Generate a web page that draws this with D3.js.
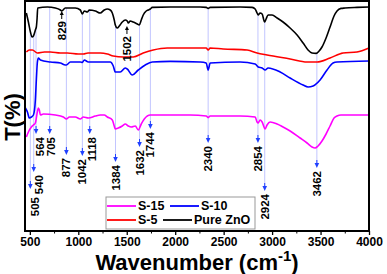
<!DOCTYPE html>
<html><head><meta charset="utf-8">
<script src="https://cdn.jsdelivr.net/npm/d3@7"></script>
<style>body{margin:0;background:#fff}svg{display:block;font-family:"Liberation Sans",Arial,sans-serif}</style>
</head><body><svg id="c" width="387" height="274"></svg>
<script>
// ---- data (wavenumber in cm-1, transmittance in arbitrary offset units) ----
const pureWn=[464,485,506,523,537,557,567,575,581,681,763,815,829,866,969,1021,1042,1062,1093,1114,1176,1227,1268,1299,1330,1351,1371,1382,1402,1423,1454,1485,1505,1516,1536,1567,1609,1629,1650,1670,1701,1722,1743,1763,1949,2258,2320,2340,2361,2670,2794,2825,2845,2856,2876,2897,2923,2938,2959,3000,3052,3113,3186,3258,3320,3371,3412,3454,3485,3515,3557,3598,3639,3670,3711,3753,3876,4000];
const pureT=[109,104.5,99.5,97,97.5,100.5,102,106.5,111.5,112,111.5,110.5,110,111.5,111.5,110.5,108.5,110,109.5,110.5,110,109,110.5,111,110.5,109,105.5,103,101.5,102.5,104.5,105.5,105,104,105,104.5,103.5,103,105.5,108,110,110.5,111,111.8,112,112,111.8,111.3,111.8,112,111.8,111,109,108,109,108.5,104.5,106,108,108,106.5,104.5,101.5,98,94,90.5,89,88.8,90,92,96.5,102,107.5,110,111.3,111.5,111.8,112];
const s5Wn=[464,495,526,578,650,712,815,887,1000,1052,1100,1227,1300,1361,1464,1567,1670,1773,1918,2155,2320,2340,2361,2495,2742,2845,2948,3186,3361,3464,3598,3732,3876,4000];
const s5T=[89.5,90.5,90.5,89,89.5,89.5,89,89,88.5,88.5,89,89,88.5,87.5,87,87,89,90.5,91.5,91.5,91.5,90.5,91.5,91,90.5,89,88,86,84.5,84.5,86.5,89,89.5,91.5];
const s10Wn=[454,475,495,516,537,557,567,578,588,609,712,815,866,877,918,1021,1042,1062,1104,1227,1330,1361,1382,1433,1485,1505,1557,1619,1691,1763,1949,2258,2320,2340,2361,2670,2825,2856,2897,2928,2959,3083,3186,3320,3371,3423,3495,3567,3629,3670,4000];
const s10T=[61.5,59.5,56.5,57,58,65.5,75.5,84.5,86.5,85.5,84.5,84,83,83,84.5,84.5,84.3,85.5,84.5,84.5,84.5,82.5,79.5,79.5,81.5,81,78,80.5,83,84.5,84.8,84.5,84,80.5,84,84.5,83.5,82,81.5,80.5,81.5,79.5,76.5,73,72,72.5,75.5,80.5,84,84.5,85];
const s15Wn=[464,485,516,537,557,572,588,598,609,640,763,846,877,908,969,1021,1052,1104,1176,1227,1268,1299,1351,1371,1382,1413,1454,1485,1516,1547,1588,1619,1650,1681,1743,1877,2155,2320,2340,2361,2670,2825,2845,2856,2876,2897,2928,2948,2979,3052,3113,3186,3289,3361,3412,3443,3474,3515,3557,3598,3639,3670,3711,4000];
const s15T=[47,49.5,52,53,54,58,61.5,60.5,58,58.5,58,57,56,57,57,56,57,56.5,57.5,58,58,57,55.5,52.5,51,51.5,52.5,53.5,52.5,52,52.5,50.5,53.5,56,58,58,58,57.5,56.7,57.5,57.5,57,54.5,54,55.5,54.5,51,53,54.5,53.5,52,50,46.5,44,42,41.5,42.5,45,48.5,52.5,56.5,57.5,58,58];
const xTicks=[500,1000,1500,2000,2500,3000,3500,4000];
const peakWn=[505,540,564,705,877,1042,1118,1384,1632,1744,2340,2854,2924,3462];
const topPeakWn=[829,1502];
const legendNames=["S-15","S-10","S-5","Pure ZnO"];

// ---- layout ----
const svg=d3.select("#c");
const L=25,R=369,T=1,B=231;
const x=d3.scaleLinear().domain([450,4000]).range([L,R]);
const y=d3.scaleLinear().domain([0,115]).range([B,T]);
const peakTip=[189,172,134,134,155,156,134,162,147,129,143,143,191,168];
const peakGap=[8,3,3,3,3,3,3,3,3,3,3,3,3,3];
const peakDx=[5,5,4,1,0,0,2,0,0,0,0,0,0,0];
const topTip=[11,26];

const series=[
  {wn:s15Wn,t:s15T,color:"#ff00ff"},
  {wn:s10Wn,t:s10T,color:"#0000ff"},
  {wn:s5Wn,t:s5T,color:"#ff0000"},
  {wn:pureWn,t:pureT,color:"#000000"}
];
const blackAt=d3.scaleLinear().domain(pureWn).range(pureT);

// guide lines
const g=svg.append("g");
peakWn.forEach((w,i)=>{
  const px=x(w), tip=peakTip[i];
  g.append("line").attr("x1",px).attr("x2",px)
   .attr("y1",Math.min(y(blackAt(w)),tip-10)).attr("y2",tip-5)
   .attr("stroke","#8f95ff").attr("stroke-opacity",0.55).attr("stroke-width",1);
});

// curves
const line=d3.line().curve(d3.curveMonotoneX);
series.forEach(s=>{
  svg.append("path").datum(s.wn.map((w,i)=>[x(w),y(s.t[i])]))
    .attr("d",line).attr("fill","none").attr("stroke",s.color).attr("stroke-width",1.6);
});

// peak arrows and labels
peakWn.forEach((w,i)=>{
  const px=x(w), tip=peakTip[i];
  g.append("line").attr("x1",px).attr("x2",px).attr("y1",tip-8).attr("y2",tip-4)
   .attr("stroke","#2040ff").attr("stroke-width",1);
  g.append("path").attr("d",`M${px-2.3},${tip-5}L${px+2.3},${tip-5}L${px},${tip}Z`).attr("fill","#2040ff");
  svg.append("text").attr("transform",`translate(${px+peakDx[i]},${tip+peakGap[i]}) rotate(-90)`)
    .attr("text-anchor","end").attr("dominant-baseline","central")
    .attr("font-size",11.5).attr("font-weight","bold").text(String(w));
});
topPeakWn.forEach((w,i)=>{
  const px=x(w), tip=topTip[i];
  svg.append("line").attr("x1",px).attr("x2",px).attr("y1",tip+3).attr("y2",tip+8)
    .attr("stroke","#000").attr("stroke-width",1);
  svg.append("path").attr("d",`M${px-2},${tip+4}L${px+2},${tip+4}L${px},${tip}Z`).attr("fill","#000");
  svg.append("text").attr("transform",`translate(${px},${tip+10}) rotate(-90)`)
    .attr("text-anchor","end").attr("dominant-baseline","central")
    .attr("font-size",11.5).attr("font-weight","bold").text(String(w));
});

// frame
svg.append("rect").attr("x",L).attr("y",T).attr("width",R-L).attr("height",B-T)
  .attr("fill","none").attr("stroke","#000").attr("stroke-width",2);

// x axis
const ax=svg.append("g").attr("transform",`translate(0,${B})`)
  .call(d3.axisBottom(x).tickValues(xTicks).tickSize(4).tickPadding(2).tickFormat(d3.format("d")));
ax.select(".domain").remove();
ax.selectAll("line").attr("stroke-width",1.3);
ax.selectAll("text").attr("font-size",12).attr("font-weight","bold")
  .attr("font-family","Liberation Sans, Arial, sans-serif").attr("fill","#000");
const minor=xTicks.slice(0,-1).map(v=>v+250);
svg.append("g").attr("transform",`translate(0,${B})`)
  .call(d3.axisBottom(x).tickValues(minor).tickSize(2.5).tickFormat(""))
  .call(s=>s.select(".domain").remove());

// axis titles
const xt=svg.append("text").attr("x",197).attr("y",270).attr("text-anchor","middle")
  .attr("font-size",22).attr("font-weight","bold");
xt.append("tspan").text("Wavenumber (cm");
xt.append("tspan").attr("dy",-9).attr("font-size",15).text("-1");
xt.append("tspan").attr("dy",9).text(")");
svg.append("text").attr("transform","translate(12,117) rotate(-90)")
  .attr("text-anchor","middle").attr("dominant-baseline","central")
  .attr("font-size",22).attr("font-weight","bold").text("T(%)");

// legend
const lg=svg.append("g");
lg.append("rect").attr("x",106).attr("y",197).attr("width",149).attr("height",32)
  .attr("fill","#fff").attr("stroke","#999").attr("stroke-width",1);
const legPos=[[107,206],[170,206],[107,220],[163,220]];
const legCol=["#ff00ff","#0000ff","#ff0000","#000000"];
legendNames.forEach((n,i)=>{
  const [lx,ly]=legPos[i];
  lg.append("line").attr("x1",lx).attr("x2",lx+29).attr("y1",ly).attr("y2",ly)
    .attr("stroke",legCol[i]).attr("stroke-width",1.8);
  lg.append("text").attr("x",lx+31).attr("y",ly).attr("dominant-baseline","central")
    .attr("font-size",12.5).attr("font-weight","bold").text(n);
});
</script></body></html>
